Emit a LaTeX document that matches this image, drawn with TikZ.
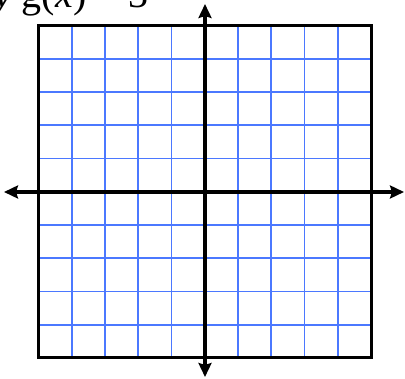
\documentclass[tikz,border=0pt]{standalone}
\usepackage{fontspec}
\setmainfont{Liberation Serif}
\usetikzlibrary{arrows.meta}
\definecolor{gridblue}{RGB}{75,120,255}

\begin{document}
\begin{tikzpicture}[x=1pt, y=-1pt,
    gridline/.style={gridblue, line width=1.7pt},
    frame/.style={draw=black, line width=3pt, minimum size=332.5pt, inner sep=0pt},
    axis/.style={line width=4pt, {Stealth[length=14pt, width=13pt, inset=2pt]}-{Stealth[length=14pt, width=13pt, inset=2pt]}}
]
\useasboundingbox (0,0) rectangle (405,379);
% grid
\foreach \i in {1,...,9} {
  \draw[gridline] (38.5+33.25*\i,25.5) -- (38.5+33.25*\i,358);
  \draw[gridline] (38.5,25.5+33.25*\i) -- (371,25.5+33.25*\i);
}
\node[frame] (board) at (204.75,191.75) {};
% axes
\coordinate (ytop) at (205,4);
\coordinate (ybot) at (205,377);
\coordinate (xleft) at (4,192);
\coordinate (xright) at (404,192);
\draw[axis] (xleft) -- (xright);
\draw[axis] (ybot) -- (ytop);
\node[anchor=base west, inner sep=0pt, font=\fontsize{40}{40}\selectfont] (title) at (-6,7.5) {\textit{y} g(\textit{x}) = 3};
\end{tikzpicture}
\end{document}
